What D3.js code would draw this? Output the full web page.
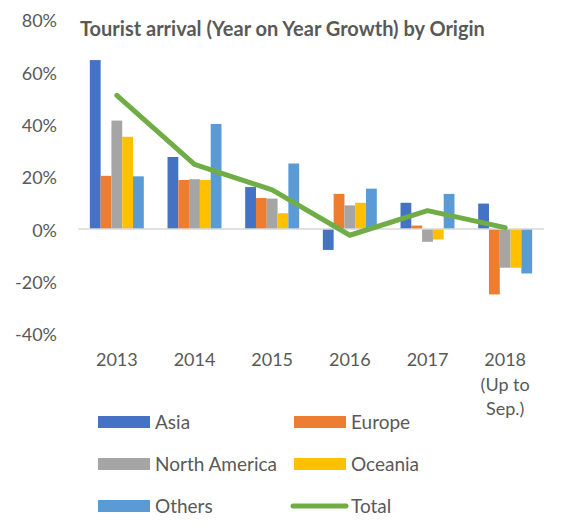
<!DOCTYPE html>
<html>
<head>
<meta charset="utf-8">
<script src="https://cdn.jsdelivr.net/npm/d3@7"></script>
<style>
  html, body { margin: 0; padding: 0; background: #fff; }
  svg { display: block; font-family: Lato, "Open Sans", "Liberation Sans", sans-serif; }
</style>
</head>
<body>
<svg id="chart" width="567" height="529"></svg>
<script>
// ---- data ----
const categories = ["2013", "2014", "2015", "2016", "2017", "2018\n(Up to\nSep.)"];
const seriesNames = ["Asia", "Europe", "North America", "Oceania", "Others"];
const asia         = [64.5, 27.5, 16.0, -8.0, 10.0, 9.7];
const europe       = [20.3, 18.7, 11.8, 13.4, 1.3, -25.0];
const northAmerica = [41.4, 19.0, 11.6, 9.0, -4.9, -14.8];
const oceania      = [35.2, 18.7, 6.0, 10.0, -4.0, -14.8];
const others       = [20.1, 40.1, 25.0, 15.4, 13.4, -17.0];
const total        = [51.0, 24.7, 14.9, -2.4, 7.0, 0.5];
const yTicks = [-40, -20, 0, 20, 40, 60, 80];
const title = "Tourist arrival (Year on Year Growth) by Origin";

const colors = ["#4472C4", "#ED7D31", "#A5A5A5", "#FFC000", "#5B9BD5"];
const totalColor = "#70AD47";
const seriesValues = [asia, europe, northAmerica, oceania, others];

const svg = d3.select("#chart");
const plotL = 78, plotR = 544, plotT = 19.5, plotB = 333.7;

const x0 = d3.scaleBand().domain(categories).range([plotL, plotR]).paddingInner(0.305).paddingOuter(0.1525);
const x1 = d3.scaleBand().domain(seriesNames).range([0, x0.bandwidth()]);
const y = d3.scaleLinear().domain([-40, 80]).range([plotB, plotT]);

// y axis labels
const yAxis = d3.axisLeft(y).tickValues(yTicks).tickFormat(d => d + "%").tickSize(0).tickPadding(0);
const yg = svg.append("g").attr("transform", "translate(57,0)").call(yAxis);
yg.select(".domain").remove();
yg.selectAll("text").attr("fill", "#595959").style("font-size", "18px").style("font-family", "Lato, sans-serif").attr("dy", "0.4em");

// bars
const rows = categories.map((c, i) => ({ cat: c, vals: seriesNames.map((s, j) => ({ s, v: seriesValues[j][i], c: colors[j] })) }));
const g = svg.append("g").selectAll("g").data(rows).join("g")
  .attr("transform", d => `translate(${x0(d.cat)},0)`);
g.selectAll("rect").data(d => d.vals).join("rect")
  .attr("x", d => x1(d.s))
  .attr("width", x1.bandwidth())
  .attr("y", d => y(Math.max(0, d.v)))
  .attr("height", d => Math.abs(y(d.v) - y(0)))
  .attr("fill", d => d.c);

// zero line
svg.append("line").attr("x1", plotL).attr("x2", plotR).attr("y1", y(0)).attr("y2", y(0))
  .attr("stroke", "#D9D9D9").attr("stroke-width", 1.5);

// total line
const line = d3.line().x((d, i) => x0(categories[i]) + x0.bandwidth() / 2).y(d => y(d));
svg.append("path").datum(total).attr("d", line).attr("fill", "none")
  .attr("stroke", totalColor).attr("stroke-width", 5).attr("stroke-linejoin", "round").attr("stroke-linecap", "round");

// x axis labels
const xAxis = d3.axisBottom(x0).tickSize(0).tickPadding(0).tickFormat("");
const xg = svg.append("g").attr("transform", `translate(0,${y(0)})`).call(xAxis);
xg.select(".domain").remove();
xg.selectAll(".tick").each(function(d) {
  const t = d3.select(this).append("text").attr("fill", "#595959").attr("text-anchor", "middle")
    .style("font-size", "18px").style("font-family", "Lato, sans-serif");
  d.split("\n").forEach((ln, k) => t.append("tspan").attr("x", 0).attr("y", 137.5 + k * 24.5).text(ln));
});

// title
svg.append("text").attr("x", 80).attr("y", 36).attr("fill", "#595959")
  .style("font-weight", "bold").style("font-size", "20px").text(title);

// legend
const legendItems = seriesNames.map((s, j) => ({ name: s, color: colors[j], type: "rect" }))
  .concat([{ name: "Total", color: totalColor, type: "line" }]);
const lg = svg.append("g").selectAll("g").data(legendItems).join("g")
  .attr("transform", (d, i) => `translate(${i % 2 === 0 ? 98 : 294},${422 + Math.floor(i / 2) * 42})`);
lg.each(function(d) {
  const s = d3.select(this);
  if (d.type === "rect") {
    s.append("rect").attr("x", 0).attr("y", -6).attr("width", 52).attr("height", 12).attr("fill", d.color);
  } else {
    s.append("line").attr("x1", -1).attr("x2", 52).attr("y1", 0).attr("y2", 0)
      .attr("stroke", d.color).attr("stroke-width", 5).attr("stroke-linecap", "round");
  }
  s.append("text").attr("x", 57).attr("y", 6.5).attr("fill", "#595959")
    .style("font-size", "19px").text(d.name);
});
</script>
</body>
</html>
